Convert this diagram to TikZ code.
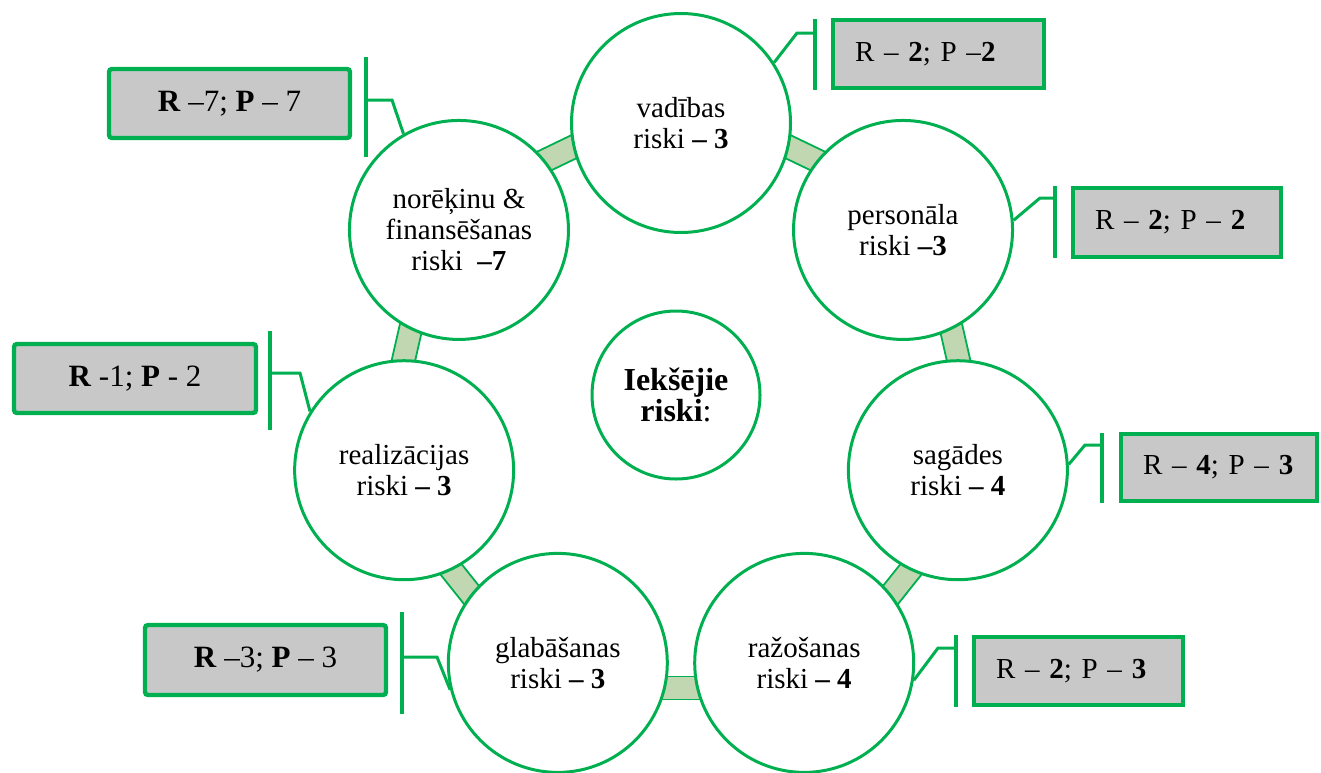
\documentclass[tikz,border=0pt]{standalone}
\usepackage{fontspec}
\setmainfont{Liberation Serif}
\usetikzlibrary{calc}
\definecolor{riskgreen}{RGB}{0,176,80}
\definecolor{bandfill}{RGB}{193,215,177}
\definecolor{scoregray}{RGB}{200,200,200}

\begin{document}
\begin{tikzpicture}[
    x=0.5pt,y=0.5pt,
    risk/.style={circle,draw=riskgreen,line width=1.5pt,fill=white,minimum size=109.5pt,inner sep=0pt,align=center,font=\fontsize{14.5}{15.5}\selectfont},
    core/.style={risk,minimum size=84pt,font=\fontsize{16}{15.5}\selectfont\bfseries},
    band/.style={draw=riskgreen,line width=0.9pt,fill=bandfill,minimum width=11.5pt,minimum height=45pt,inner sep=0pt},
    scorel/.style={draw=riskgreen,line width=2.2pt,fill=scoregray,rounded corners=1.5pt,align=center,inner sep=0pt,font=\fontsize{15.5}{17}\selectfont},
    scorer/.style={draw=riskgreen,line width=2pt,fill=scoregray,align=left,inner xsep=11pt,inner ysep=0pt,font=\fontsize{14.5}{17}\selectfont},
    lead/.style={draw=riskgreen,line width=1.5pt},
    callbar/.style={draw=riskgreen,line width=1.7pt}
]
\useasboundingbox (0,0) rectangle (1321,-772);
\coordinate (ring) at (681,-407);

% bands between the circles, drawn first
\foreach \a [count=\i] in {64.29,12.86,-38.57,-90,-141.43,-192.86,115.71}
  \node[band,rotate=\a] (band\i) at ($(ring)+(\a:281)$) {};

\node[core] (iek) at (676,-395) {Iekšējie\\riski\mdseries:};
\node[risk] (vad) at ($(ring)+(90:284)$) {vadības\\riski \textbf{– 3}};
\node[risk] (pers) at ($(ring)+(38.57:284)$) {personāla\\riski \textbf{–3}};
\node[risk] (sag) at ($(ring)+(-12.86:284)$) {sagādes\\riski \textbf{– 4}};
\node[risk] (raz) at ($(ring)+(-64.29:284)$) {ražošanas\\riski \textbf{– 4}};
\node[risk] (glab) at ($(ring)+(-115.71:284)$) {glabāšanas\\riski \textbf{– 3}};
\node[risk] (real) at ($(ring)+(-167.14:284)$) {realizācijas\\riski \textbf{– 3}};
\node[risk] (nor) at ($(ring)+(141.43:284)$) {norēķinu \&\\finansēšanas\\riski \ \textbf{–7}};

% score boxes
\node[scorer,minimum height=34pt,text width=83.5pt] (bvad) at (938.5,-54) {\mbox{R – \textbf{2}; P –\textbf{2}}};
\node[scorer,minimum height=34.5pt,text width=82pt] (bpers) at (1177,-222.5) {\mbox{R – \textbf{2}; P – \textbf{2}}};
\node[scorer,minimum height=33.5pt,text width=76pt] (bsag) at (1219,-467.5) {\mbox{R – \textbf{4}; P – \textbf{3}}};
\node[scorer,minimum height=34pt,text width=82.5pt] (braz) at (1078.5,-671) {\mbox{R – \textbf{2}; P – \textbf{3}}};
\node[scorel,minimum width=120.5pt,minimum height=35pt] (bglab) at (265.5,-660) {\textbf{R} –3; \textbf{P} – 3};
\node[scorel,minimum width=121pt,minimum height=34.5pt] (breal) at (135,-378.5) {\textbf{R} -1; \textbf{P} - 2};
\node[scorel,minimum width=120.5pt,minimum height=34.5pt] (bnor) at (229.5,-103.5) {\textbf{R} –7; \textbf{P} – 7};

% callouts
\coordinate (kvad) at (797,-33);  \coordinate (mvad) at (815,-33);
\coordinate (kpers) at (1040,-198); \coordinate (mpers) at (1055,-198);
\coordinate (ksag) at (1085,-445); \coordinate (msag) at (1102,-445);
\coordinate (kraz) at (938,-648); \coordinate (mraz) at (956,-648);
\coordinate (kglab) at (437,-657); \coordinate (mglab) at (402,-657);
\coordinate (kreal) at (300,-373); \coordinate (mreal) at (270,-373);
\coordinate (knor) at (392,-100); \coordinate (mnor) at (366,-100);

\draw[lead] (vad.33) -- (kvad) -- (mvad);
\draw[lead] (pers.5) -- (kpers) -- (mpers);
\draw[lead] (sag.3) -- (ksag) -- (msag);
\draw[lead] (raz.-9) -- (kraz) -- (mraz);
\draw[lead] (glab.194) -- (kglab) -- (mglab);
\draw[lead] (real.148) -- (kreal) -- (mreal);
\draw[lead] (nor.120) -- (knor) -- (mnor);

\draw[callbar] (815,-19) -- (815,-90);
\draw[callbar] (1055,-186) -- (1055,-258);
\draw[callbar] (1102,-433) -- (1102,-503);
\draw[callbar] (956,-635) -- (956,-707);
\draw[callbar] (402,-612) -- (402,-714);
\draw[callbar] (270,-331) -- (270,-430);
\draw[callbar] (366,-57) -- (366,-157);
\end{tikzpicture}
\end{document}
